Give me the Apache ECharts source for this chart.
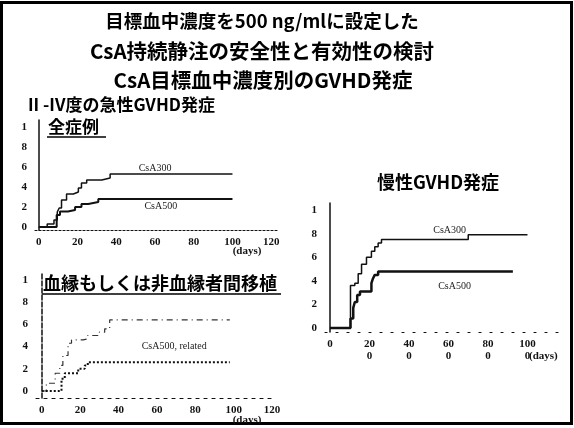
<!DOCTYPE html>
<html><head><meta charset="utf-8">
<script src="https://cdn.jsdelivr.net/npm/echarts@6/dist/echarts.min.js"></script>
<style>html,body{margin:0;padding:0;background:#fff}#c{width:574px;height:428px}</style>
</head><body><div id="c"></div>
<script>
// ---- tick labels ----
const acuteDayTicks = [0, 20, 40, 60, 80, 100, 120];
const yTickValues = [0, 0.2, 0.4, 0.6, 0.8, 1];
const yTickLabels = ['0', '2', '4', '6', '8', '1'];
const chronicDayTicks = [0, 200, 400, 600, 800, 1000];
const chronicDayLabels = ['0', '20\n0', '40\n0', '60\n0', '80\n0', '100\n0'];

// ---- series (day, cumulative incidence) ----
// panel 1: all cases, grade II-IV acute GVHD
const allCsA300 = [[0,0],[4.3,0.03],[7.8,0.07],[9.5,0.15],[10.5,0.19],[11.7,0.27],[14.3,0.33],[17.8,0.35],[20.4,0.39],[22,0.44],[24.7,0.47],[32.5,0.49],[36.8,0.53],[100,0.53]];
const allCsA500 = [[0,0],[9.2,0.12],[10.9,0.155],[15,0.17],[18.7,0.2],[22,0.23],[25.5,0.25],[30.7,0.28],[100,0.28]];
// panel 2: related / unrelated
const relUpper = [[0,0],[2.4,0.07],[7,0.16],[9.4,0.23],[11,0.32],[13.7,0.43],[15.5,0.46],[21.5,0.47],[24,0.5],[30,0.53],[32.8,0.56],[35.4,0.64],[98,0.64]];
const relLower = [[0,0],[10.3,0.11],[12,0.16],[19,0.2],[22.4,0.23],[24,0.26],[98,0.26]];
// panel 3: chronic GVHD
const chrCsA300 = [[0,0],[104,0.36],[126,0.38],[143,0.46],[160,0.54],[185,0.6],[210,0.65],[227,0.69],[244,0.72],[261,0.75],[700,0.79],[1000,0.79]];
const chrCsA500 = [[0,0],[104,0.08],[118,0.17],[126,0.22],[138,0.28],[152,0.31],[210,0.38],[218,0.42],[227,0.45],[244,0.48],[926,0.48]];

const serif = '"Liberation Serif","DejaVu Serif",serif';
const cjk = '"Noto Sans CJK JP","Noto Sans",sans-serif';
const ink = '#111';

function yAx(gi, min, max, lineType) {
  return {
    type: 'value', gridIndex: gi, min: min, max: max,
    splitLine: {show: false},
    axisLine: {show: true, lineStyle: {color: ink, width: 1.5, type: lineType}},
    axisTick: {show: false},
    axisLabel: {
      customValues: yTickValues, margin: 8,
      formatter: v => yTickLabels[yTickValues.findIndex(t => Math.abs(t - v) < 1e-6)] || '',
      fontFamily: serif, fontSize: 11, fontWeight: 'bold', color: ink
    }
  };
}
function xAx(gi, min, max, ticks, labels, lineType) {
  return {
    type: 'value', gridIndex: gi, min: min, max: max,
    splitLine: {show: false},
    axisLine: {show: true, onZero: false, lineStyle: {color: ink, width: 1.2, type: lineType}},
    axisTick: {show: false},
    axisLabel: {
      customValues: ticks, margin: 6, lineHeight: 12,
      formatter: v => labels[ticks.indexOf(v)] ?? '',
      fontFamily: serif, fontSize: 11, fontWeight: 'bold', color: ink
    }
  };
}
function annot(coord, text) {
  return {symbol: 'circle', symbolSize: 0, silent: true,
    data: [{coord: coord, label: {show: true, position: 'inside', formatter: text,
      fontFamily: serif, fontSize: 10, color: '#222'}}]};
}

const option = {
  backgroundColor: '#fff',
  animation: false,
  grid: [
    {left: 35, top: 120, width: 242, height: 110},
    {left: 36, top: 273, width: 236, height: 125},
    {left: 325, top: 203, width: 242, height: 129}
  ],
  xAxis: [
    xAx(0, -2, 123, acuteDayTicks, acuteDayTicks.map(String), [2, 2]),
    xAx(1, -3, 120, acuteDayTicks, acuteDayTicks.map(String), [3, 5]),
    xAx(2, -25, 1200, chronicDayTicks, chronicDayLabels, [2, 9])
  ],
  yAxis: [
    yAx(0, -0.03, 1.07, 'solid'),
    yAx(1, -0.063, 1.063, [5, 2]),
    yAx(2, -0.034, 1.06, 'solid')
  ],
  series: [
    {type: 'line', xAxisIndex: 0, yAxisIndex: 0, step: 'end', data: allCsA300, showSymbol: false,
      lineStyle: {color: ink, width: 1.5}, markPoint: annot([60, 0.59], 'CsA300')},
    {type: 'line', xAxisIndex: 0, yAxisIndex: 0, step: 'end', data: allCsA500, showSymbol: false,
      lineStyle: {color: ink, width: 2}, markPoint: annot([63, 0.21], 'CsA500')},
    {type: 'line', xAxisIndex: 1, yAxisIndex: 1, step: 'end', data: relUpper, showSymbol: false,
      lineStyle: {color: '#333', width: 1.2, type: [6, 4, 1, 4]}, markPoint: annot([69, 0.405], 'CsA500, related')},
    {type: 'line', xAxisIndex: 1, yAxisIndex: 1, step: 'end', data: relLower, showSymbol: false,
      lineStyle: {color: ink, width: 2, type: [2, 2]}},
    {type: 'line', xAxisIndex: 2, yAxisIndex: 2, step: 'end', data: chrCsA300, showSymbol: false,
      lineStyle: {color: ink, width: 1.5}, markPoint: annot([606, 0.83], 'CsA300')},
    {type: 'line', xAxisIndex: 2, yAxisIndex: 2, step: 'end', data: chrCsA500, showSymbol: false,
      lineStyle: {color: ink, width: 2.5}, markPoint: annot([631, 0.35], 'CsA500')}
  ],
  graphic: [
    {type: 'rect', shape: {x: 1.5, y: 2.5, width: 570, height: 421}, style: {fill: 'none', stroke: '#000', lineWidth: 3}},
    {type: 'text', x: 262, y: 21, style: {text: '目標血中濃度を500 ng/mlに設定した', font: 'bold 18.5px ' + cjk, fill: '#000', textAlign: 'center', textVerticalAlign: 'middle'}},
    {type: 'text', x: 262, y: 51, style: {text: 'CsA持続静注の安全性と有効性の検討', font: 'bold 20.5px ' + cjk, fill: '#000', textAlign: 'center', textVerticalAlign: 'middle'}},
    {type: 'text', x: 263, y: 80, style: {text: 'CsA目標血中濃度別のGVHD発症', font: 'bold 20.5px ' + cjk, fill: '#000', textAlign: 'center', textVerticalAlign: 'middle'}},
    {type: 'text', x: 28, y: 105, style: {text: 'II -IV度の急性GVHD発症', font: 'bold 17px ' + cjk, fill: '#000', textAlign: 'left', textVerticalAlign: 'middle'}},
    {type: 'text', x: 48, y: 127, style: {text: '全症例', font: 'bold 17px ' + cjk, fill: '#000', textAlign: 'left', textVerticalAlign: 'middle'}},
    {type: 'line', shape: {x1: 47, y1: 137, x2: 106, y2: 137}, style: {stroke: '#000', lineWidth: 1.5}},
    {type: 'text', x: 43, y: 283, style: {text: '血縁もしくは非血縁者間移植', font: 'bold 18px ' + cjk, fill: '#000', textAlign: 'left', textVerticalAlign: 'middle'}},
    {type: 'line', shape: {x1: 42, y1: 294, x2: 281, y2: 294}, style: {stroke: '#000', lineWidth: 1.5}},
    {type: 'text', x: 438, y: 182, style: {text: '慢性GVHD発症', font: 'bold 18px ' + cjk, fill: '#000', textAlign: 'center', textVerticalAlign: 'middle'}},
    {type: 'text', x: 247, y: 251, style: {text: '(days)', font: 'bold 11px ' + serif, fill: ink, textAlign: 'center', textVerticalAlign: 'middle'}},
    {type: 'text', x: 247, y: 420, style: {text: '(days)', font: 'bold 11px ' + serif, fill: ink, textAlign: 'center', textVerticalAlign: 'middle'}},
    {type: 'text', x: 529, y: 356, style: {text: '(days)', font: 'bold 11px ' + serif, fill: ink, textAlign: 'left', textVerticalAlign: 'middle'}}
  ]
};
const chart = echarts.init(document.getElementById('c'), null, {renderer: 'canvas'});
chart.setOption(option);
</script>
</body></html>
